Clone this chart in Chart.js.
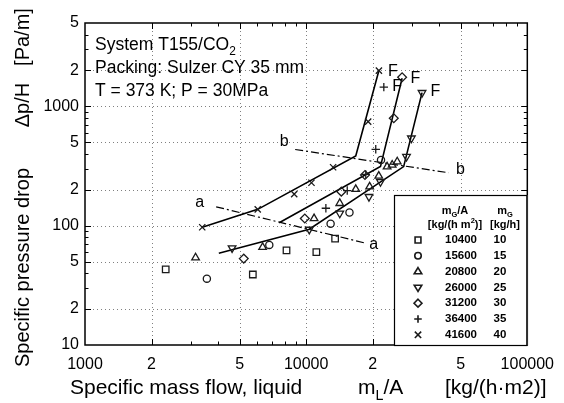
<!DOCTYPE html>
<html><head><meta charset="utf-8">
<script src="https://cdn.jsdelivr.net/npm/chart.js@4"></script>
<style>html,body{margin:0;padding:0;background:#fff}</style>
</head><body>
<canvas id="c" width="564" height="403" style="width:564px;height:403px;display:block"></canvas>
<script>
// ---------- DATA ----------
// Specific liquid mass flow mL/A [kg/(h m2)] vs specific pressure drop dp/H [Pa/m]
const gasLoads = ['10400','15600','20800','26000','31200','36400','41600'];
const gasMass  = ['10','15','20','25','30','35','40'];
const s10400 = [[2317,43],[5740,39],[8150,62],[11120,60],[13520,78]];
const s15600 = [[3557,36],[6813,69],[12900,104],[15700,129],[21800,355]];
const s20800 = [[3162,54],[6356,66],[10860,115],[14190,154],[16760,202],[19370,212],[21300,261],[23230,312],[24490,323],[25810,344]];
const s26000 = [[4624,65],[10330,93],[14190,127],[19230,175],[21680,233],[28430,379],[29910,541],[33420,1303]];
const s31200 = [[5222,53],[9860,115],[14420,193],[18450,266],[24900,795],[27160,1754]];
const s36400 = [[12280,140],[15340,197],[18600,269],[20640,437],[22450,1450]];
const s41600 = [[3389,97],[6040,137],[8830,184],[10570,229],[13240,309],[19070,745],[21330,1996]];
// fitted curves
const curveLow  = [[4028,58.7],[10330,93.3],[27600,313],[33420,1303]];
const curveMid  = [[7551,106],[21680,313],[27160,1722]];
const curveHigh = [[3389,97],[6040,137],[16760,384],[21330,1996]];
const lineA = [[3918,144],[18240,72]];
const lineB = [[8920,435],[44060,278]];
// axis ticks
const xTickValues = [1000,2000,5000,10000,20000,50000,100000];
const xTickLabels = ['1000','2','5','10000','2','5','100000'];
const xMinorTicks = [3000,4000,6000,7000,8000,9000,30000,40000,60000,70000,80000,90000];
const xGridValues = [2000,5000,10000,20000,50000];
const yTickValues = [10,20,50,100,200,500,1000,2000,5000];
const yTickLabels = ['10','2','5','100','2','5','1000','2','5'];
const yMinorTicks = [30,40,60,70,80,90,300,400,600,700,800,900,3000,4000];
const yGridValues = [20,50,100,200,500,1000,2000];

// ---------- RENDER ----------
const FONT = "'Liberation Sans', Arial, sans-serif";
const MC = '#1a1a1a';
const pts = a => a.map(([x,y]) => ({x, y}));

const markerDefs = [
  {style:'rect', r:4.6, rot:0},
  {style:'circle', r:3.6, rot:0},
  {style:'triangle', r:4.4, rot:0},
  {style:'triangle', r:4.4, rot:180},
  {style:'rectRot', r:4.4, rot:0},
  {style:'cross', r:4.2, rot:0},
  {style:'crossRot', r:4.4, rot:0}
];
const seriesData = [s10400,s15600,s20800,s26000,s31200,s36400,s41600];

const datasets = [];
seriesData.forEach((s,i) => {
  const m = markerDefs[i];
  datasets.push({label: gasLoads[i], data: pts(s), showLine:false,
    pointStyle:m.style, pointRadius:m.r, pointRotation:m.rot,
    pointBorderColor:MC, pointBackgroundColor:'rgba(0,0,0,0)', pointBorderWidth:1.3});
});
[curveLow, curveMid, curveHigh].forEach(c => datasets.push({label:'curve', data: pts(c), showLine:true,
  borderColor:'#000', borderWidth:1.6, pointRadius:0, tension:0, fill:false}));
[lineA, lineB].forEach(c => datasets.push({label:'dashdot', data: pts(c), showLine:true,
  borderColor:'#000', borderWidth:1.2, borderDash:[8,3,2,3], pointRadius:0, tension:0, fill:false}));

function drawRich(ctx, x, y, parts, size, bold, align) {
  const w = bold ? 'bold ' : '';
  let total = 0;
  const widths = parts.map(([t,k]) => {
    ctx.font = w + (k ? size*0.68 : size) + 'px ' + FONT;
    const mw = ctx.measureText(t).width; total += mw; return mw;
  });
  let cx = align === 'center' ? x - total/2 : (align === 'right' ? x - total : x);
  ctx.textAlign = 'left'; ctx.textBaseline = 'alphabetic';
  parts.forEach(([t,k], i) => {
    ctx.font = w + (k ? size*0.68 : size) + 'px ' + FONT;
    const dy = k === 'sub' ? size*0.28 : (k === 'sup' ? -size*0.42 : 0);
    ctx.fillText(t, cx, y + dy); cx += widths[i];
  });
}

function drawMarker(ctx, style, rot, x, y, r) {
  ctx.save(); ctx.translate(x,y); ctx.rotate(rot*Math.PI/180);
  ctx.beginPath();
  if (style === 'rect') { const s = r*Math.SQRT1_2; ctx.rect(-s,-s,2*s,2*s); }
  else if (style === 'circle') { ctx.arc(0,0,r,0,Math.PI*2); }
  else if (style === 'triangle') { ctx.moveTo(0,-r); ctx.lineTo(r*0.95, r*0.55); ctx.lineTo(-r*0.95, r*0.55); ctx.closePath(); }
  else if (style === 'rectRot') { ctx.moveTo(0,-r); ctx.lineTo(r,0); ctx.lineTo(0,r); ctx.lineTo(-r,0); ctx.closePath(); }
  else if (style === 'cross') { ctx.moveTo(0,-r); ctx.lineTo(0,r); ctx.moveTo(-r,0); ctx.lineTo(r,0); }
  else if (style === 'crossRot') { const s=r*0.8; ctx.moveTo(-s,-s); ctx.lineTo(s,s); ctx.moveTo(-s,s); ctx.lineTo(s,-s); }
  ctx.stroke(); ctx.restore();
}

const deco = {
  id: 'deco',
  beforeDatasetsDraw(chart) {
    const {ctx, chartArea: ca, scales: {x, y}} = chart;
    ctx.save();
    ctx.strokeStyle = '#808080'; ctx.lineWidth = 1; ctx.setLineDash([1,3]);
    xGridValues.forEach(v => { const px = Math.round(x.getPixelForValue(v)) + 0.5;
      ctx.beginPath(); ctx.moveTo(px, ca.top); ctx.lineTo(px, ca.bottom); ctx.stroke(); });
    yGridValues.forEach(v => { const py = Math.round(y.getPixelForValue(v)) + 0.5;
      ctx.beginPath(); ctx.moveTo(ca.left, py); ctx.lineTo(ca.right, py); ctx.stroke(); });
    ctx.restore();
  },
  afterDatasetsDraw(chart) {
    const {ctx, chartArea: ca, scales: {x, y}} = chart;
    ctx.save();
    ctx.strokeStyle = '#000'; ctx.lineWidth = 1; ctx.setLineDash([]);
    const tick = (vals, len) => {
      vals.forEach(v => {
        const px = Math.round(x.getPixelForValue(v)) + 0.5;
        if (v > 1000 && v < 100000) {
          ctx.beginPath(); ctx.moveTo(px, ca.bottom); ctx.lineTo(px, ca.bottom - len);
          ctx.moveTo(px, ca.top); ctx.lineTo(px, ca.top + len); ctx.stroke();
        }
      });
    };
    tick(xTickValues, 6); tick(xMinorTicks, 3.5);
    const ytick = (vals, len) => {
      vals.forEach(v => {
        const py = Math.round(y.getPixelForValue(v)) + 0.5;
        if (v > 10 && v < 5000) {
          ctx.beginPath(); ctx.moveTo(ca.left, py); ctx.lineTo(ca.left + len, py);
          ctx.moveTo(ca.right, py); ctx.lineTo(ca.right - len, py); ctx.stroke();
        }
      });
    };
    ytick(yTickValues, 6); ytick(yMinorTicks, 3.5);
    // frame
    ctx.lineWidth = 1.5;
    ctx.strokeRect(ca.left, ca.top, ca.right - ca.left, ca.bottom - ca.top);

    // in-plot annotations
    ctx.fillStyle = '#000';
    drawRich(ctx, ca.left + 10, 50, [['System T155/CO'],['2','sub']], 17.5, false, 'left');
    drawRich(ctx, ca.left + 10, 73, [['Packing: Sulzer CY 35 mm']], 17.5, false, 'left');
    drawRich(ctx, ca.left + 10, 96, [['T = 373 K; P = 30MPa']], 17.5, false, 'left');
    ctx.font = '16px ' + FONT; ctx.textAlign = 'center'; ctx.textBaseline = 'middle';
    const lab = (t, vx, vy) => ctx.fillText(t, x.getPixelForValue(vx), y.getPixelForValue(vy));
    lab('a', 3297, 156); lab('a', 20230, 69);
    lab('b', 7960, 506); lab('b', 49800, 293);
    lab('F', 24660, 1954); lab('F', 31190, 1722); lab('F', 25780, 1463); lab('F', 38370, 1327);

    // legend table
    const L = 394, T = 195, R = ca.right, B = ca.bottom;
    ctx.fillStyle = '#fff'; ctx.fillRect(L, T, R - L, B - T);
    ctx.strokeStyle = '#000'; ctx.lineWidth = 1.2; ctx.strokeRect(L + 0.5, T + 0.5, R - L - 1, B - T);
    ctx.fillStyle = '#000';
    drawRich(ctx, 455, 214, [['m'],['G','sub'],['/A']], 11, true, 'center');
    drawRich(ctx, 505, 214, [['m'],['G','sub']], 11, true, 'center');
    drawRich(ctx, 455, 228, [['[kg/(h m'],['2','sup'],[')]']], 11, true, 'center');
    drawRich(ctx, 505, 228, [['[kg/h]']], 11, true, 'center');
    ctx.strokeStyle = MC; ctx.lineWidth = 1.6;
    gasLoads.forEach((g, i) => {
      const cy = 240 + i * 15.8;
      const m = markerDefs[i];
      drawMarker(ctx, m.style, m.rot, 418, cy, m.r * 0.9);
      ctx.fillStyle = '#000';
      ctx.font = 'bold 11.5px ' + FONT; ctx.textAlign = 'center'; ctx.textBaseline = 'middle';
      ctx.fillText(g, 461, cy);
      ctx.fillText(gasMass[i], 500, cy);
    });
    ctx.restore();
  },
  afterDraw(chart) {
    const {ctx} = chart;
    ctx.save(); ctx.fillStyle = '#000';
    // x axis title
    drawRich(ctx, 70, 394, [['Specific mass flow, liquid']], 21, false, 'left');
    drawRich(ctx, 358, 394, [['m'],['L','sub'],['/A']], 21, false, 'left');
    drawRich(ctx, 445, 394, [['[kg/(h\u00B7m2)]']], 21, false, 'left');
    // y axis title (rotated)
    ctx.translate(29, 0); ctx.rotate(-Math.PI/2);
    drawRich(ctx, -168, 0, [['Specific pressure drop']], 20, false, 'right');
    drawRich(ctx, -105, 0, [['\u0394p/H']], 20, false, 'center');
    drawRich(ctx, -37, 0, [['[Pa/m]']], 20, false, 'center');
    ctx.restore();
  }
};

new Chart(document.getElementById('c'), {
  type: 'scatter',
  data: { datasets },
  options: {
    responsive: false, animation: false, devicePixelRatio: 1,
    layout: { padding: { left: 0, right: 35, top: 23, bottom: 0 } },
    plugins: { legend: { display: false }, tooltip: { enabled: false } },
    scales: {
      x: {
        type: 'logarithmic', min: 1000, max: 100000,
        afterBuildTicks: s => { s.ticks = xTickValues.map(v => ({value: v})); },
        afterFit: s => { s.height = 58; },
        grid: { display: false, drawTicks: false }, border: { display: false },
        ticks: { autoSkip: false, maxRotation: 0, padding: 10, color: '#000',
          font: { family: FONT, size: 16 },
          callback: v => { const i = xTickValues.indexOf(v); return i >= 0 ? xTickLabels[i] : ''; } }
      },
      y: {
        type: 'logarithmic', min: 10, max: 5000,
        afterBuildTicks: s => { s.ticks = yTickValues.map(v => ({value: v})); },
        afterFit: s => { s.width = 85; },
        grid: { display: false, drawTicks: false }, border: { display: false },
        ticks: { autoSkip: false, padding: 6, color: '#000',
          font: { family: FONT, size: 16 },
          callback: v => { const i = yTickValues.indexOf(v); return i >= 0 ? yTickLabels[i] : ''; } }
      }
    }
  },
  plugins: [deco]
});
</script>
</body></html>
